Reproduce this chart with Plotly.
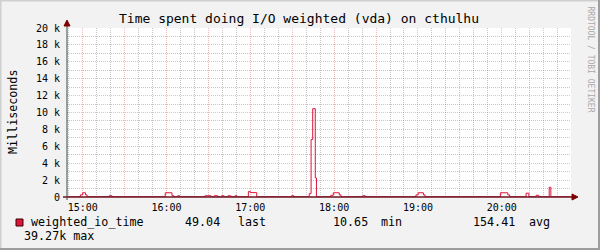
import plotly.graph_objects as go

DAY = "2024-01-01 "

# step-change points of weighted_io_time (ms)
times = ["14:48:45", "14:58:20", "15:00:00", "15:02:00", "15:03:05", "15:19:00", "15:21:00",
         "15:59:05", "16:03:55", "16:05:10", "16:08:00", "16:09:25", "16:27:35", "16:31:55",
         "16:34:10", "16:36:40", "16:39:30", "16:41:00", "16:44:00", "16:46:00", "16:49:00",
         "16:50:20", "16:58:35", "17:00:00", "17:04:35", "17:29:35", "17:31:05", "17:42:10",
         "17:43:30", "17:44:40", "17:46:30", "17:47:20", "17:57:35", "17:59:25", "18:03:40",
         "18:04:55", "18:20:30", "18:22:20", "18:58:35", "19:00:10", "19:03:55", "19:05:05",
         "19:59:00", "20:04:20", "20:05:40", "20:17:25", "20:19:25", "20:24:35", "20:26:30",
         "20:34:00", "20:35:10", "20:49:35"]
values = [30, 250, 500, 250, 30, 150, 30,
          500, 150, 30, 150, 30, 150, 30,
          150, 30, 150, 30, 150, 30, 150,
          30, 640, 520, 30, 150, 30, 400,
          6800, 10450, 2250, 30, 200, 500, 250,
          30, 150, 30, 250, 500, 250, 30,
          500, 250, 30, 450, 30, 200, 30,
          1150, 30, 49]

y_ticks = [0, 2000, 4000, 6000, 8000, 10000, 12000, 14000, 16000, 18000, 20000]
y_labels = ["0", "2 k", "4 k", "6 k", "8 k", "10 k", "12 k", "14 k", "16 k", "18 k", "20 k"]
y_minor = [1000, 3000, 5000, 7000, 9000, 11000, 13000, 15000, 17000, 19000]
x_ticks = ["15:00", "15:30", "16:00", "16:30", "17:00", "17:30", "18:00", "18:30",
           "19:00", "19:30", "20:00", "20:30"]
x_labels = ["15:00", "", "16:00", "", "17:00", "", "18:00", "", "19:00", "", "20:00", ""]
x_minor = ["14:50", "15:10", "15:20", "15:40", "15:50", "16:10", "16:20", "16:40", "16:50",
           "17:10", "17:20", "17:40", "17:50", "18:10", "18:20", "18:40", "18:50",
           "19:10", "19:20", "19:40", "19:50", "20:10", "20:20", "20:40"]
x_range = ["14:48:45", "20:49:35"]
y_range = [0, 20000]

title = "Time spent doing I/O weighted (vda) on cthulhu"
y_title = "Milliseconds"
series_name = "weighted_io_time"
legend_items = [("49.04", 184), ("last", 237), ("10.65", 332), ("min", 380),
                ("154.41", 472), ("avg", 528)]
legend_line2 = "39.27k max"
watermark = "RRDTOOL / TOBI OETIKER"

W, H = 600, 250
L, R, T, B = 67, 571, 28, 197
MONO = "DejaVu Sans Mono"
LINE = "#DC143C"
MGRID = "rgba(222,80,80,0.4)"
GRID = "rgba(120,120,120,0.42)"


def px(x):
    return (x - L) / (R - L)


def py(y):
    return (B - y) / (B - T)


xr = [DAY + x_range[0], DAY + x_range[1]]

fig = go.Figure()
# invisible carrier trace for the minor-grid axes
fig.add_trace(go.Scatter(x=[xr[0]], y=[y_range[0]], xaxis="x2", yaxis="y2", mode="markers",
                         marker=dict(opacity=0), showlegend=False, hoverinfo="skip"))
fig.add_trace(go.Scatter(
    x=[DAY + t for t in times], y=values, mode="lines",
    line=dict(color=LINE, width=1, shape="hv"), showlegend=False, hoverinfo="skip"))

fig.update_layout(
    width=W, height=H,
    margin=dict(l=L, r=W - R, t=T, b=H - B, pad=0),
    paper_bgcolor="#F2F2F2", plot_bgcolor="#FFFFFF",
    font=dict(family=MONO, color="#000000"),
    showlegend=False,
    xaxis=dict(
        type="date", range=xr,
        tickmode="array", tickvals=[DAY + t for t in x_ticks], ticktext=x_labels,
        showgrid=True, gridcolor=MGRID, gridwidth=1, griddash="1px,1px",
        ticks="", showline=False, zeroline=False,
        tickfont=dict(family=MONO, size=10, color="#000000"),
        ticklabelstandoff=3,
    ),
    yaxis=dict(
        range=y_range, tickmode="array", tickvals=y_ticks, ticktext=y_labels,
        showgrid=True, gridcolor=MGRID, gridwidth=1, griddash="1px,1px",
        ticks="", showline=False, zeroline=False,
        tickfont=dict(family=MONO, size=10, color="#000000"),
        ticklabelstandoff=6,
    ),
    xaxis2=dict(
        type="date", range=xr, overlaying="x",
        tickmode="array", tickvals=[DAY + t for t in x_minor], showticklabels=False,
        showgrid=True, gridcolor=GRID, gridwidth=1, griddash="1px,1px",
        ticks="", showline=False, zeroline=False,
    ),
    yaxis2=dict(
        range=y_range, overlaying="y",
        tickmode="array", tickvals=y_minor, showticklabels=False,
        showgrid=True, gridcolor=GRID, gridwidth=1, griddash="1px,1px",
        ticks="", showline=False, zeroline=False,
    ),
)

shapes = []
# frame shading
shapes.append(dict(type="line", xref="paper", yref="paper", x0=px(0), x1=px(W), y0=py(0.5), y1=py(0.5),
                   line=dict(color="#CFCFCF", width=2)))
shapes.append(dict(type="line", xref="paper", yref="paper", x0=px(0.5), x1=px(0.5), y0=py(0), y1=py(H),
                   line=dict(color="#CFCFCF", width=2)))
shapes.append(dict(type="line", xref="paper", yref="paper", x0=px(0), x1=px(W), y0=py(H - 1), y1=py(H - 1),
                   line=dict(color="#9E9E9E", width=2)))
shapes.append(dict(type="line", xref="paper", yref="paper", x0=px(W - 1), x1=px(W - 1), y0=py(0), y1=py(H),
                   line=dict(color="#9E9E9E", width=2)))
# axes
shapes.append(dict(type="line", xref="paper", yref="paper", x0=px(L - 4), x1=px(574), y0=py(B), y1=py(B),
                   line=dict(color="#6E1423", width=1.5), layer="above"))
shapes.append(dict(type="line", xref="paper", yref="paper", x0=px(L), x1=px(L), y0=py(B + 3), y1=py(24),
                   line=dict(color="#2C4D43", width=1), layer="above"))
# arrows
shapes.append(dict(type="path", xref="paper", yref="paper",
                   path=f"M {px(572)} {py(B - 3)} L {px(578)} {py(B)} L {px(572)} {py(B + 3)} Z",
                   fillcolor="#7F0000", line=dict(color="#7F0000", width=1), layer="above"))
shapes.append(dict(type="path", xref="paper", yref="paper",
                   path=f"M {px(L - 3)} {py(26)} L {px(L)} {py(20)} L {px(L + 3)} {py(26)} Z",
                   fillcolor="#7F0000", line=dict(color="#7F0000", width=1), layer="above"))
# legend swatch
shapes.append(dict(type="rect", xref="paper", yref="paper", x0=px(16), x1=px(23), y0=py(226), y1=py(219),
                   fillcolor=LINE, line=dict(color="#400000", width=1)))
fig.update_layout(shapes=shapes)

ann = []
ann.append(dict(text=title, x=px(299), y=py(19), xref="paper", yref="paper", showarrow=False,
                xanchor="center", yanchor="middle", font=dict(family=MONO, size=13, color="#000000")))
ann.append(dict(text=y_title, x=px(13), y=py(112), xref="paper", yref="paper", showarrow=False,
                textangle=-90, xanchor="center", yanchor="middle",
                font=dict(family=MONO, size=11.7, color="#000000")))
ann.append(dict(text=watermark, x=px(590.5), y=py(59), xref="paper", yref="paper", showarrow=False,
                textangle=90, xanchor="center", yanchor="middle",
                font=dict(family=MONO, size=8, color="#A8A8A8")))
ann.append(dict(text=series_name, x=px(29), y=py(222), xref="paper", yref="paper", showarrow=False,
                xanchor="left", yanchor="middle", font=dict(family=MONO, size=11.7, color="#000000")))
for txt, xx in legend_items:
    ann.append(dict(text=txt, x=px(xx - 1), y=py(222), xref="paper", yref="paper", showarrow=False,
                    xanchor="left", yanchor="middle", font=dict(family=MONO, size=11.7, color="#000000")))
ann.append(dict(text=legend_line2, x=px(22), y=py(236), xref="paper", yref="paper", showarrow=False,
                xanchor="left", yanchor="middle", font=dict(family=MONO, size=11.7, color="#000000")))
fig.update_layout(annotations=ann)

fig.write_html("out.html")
